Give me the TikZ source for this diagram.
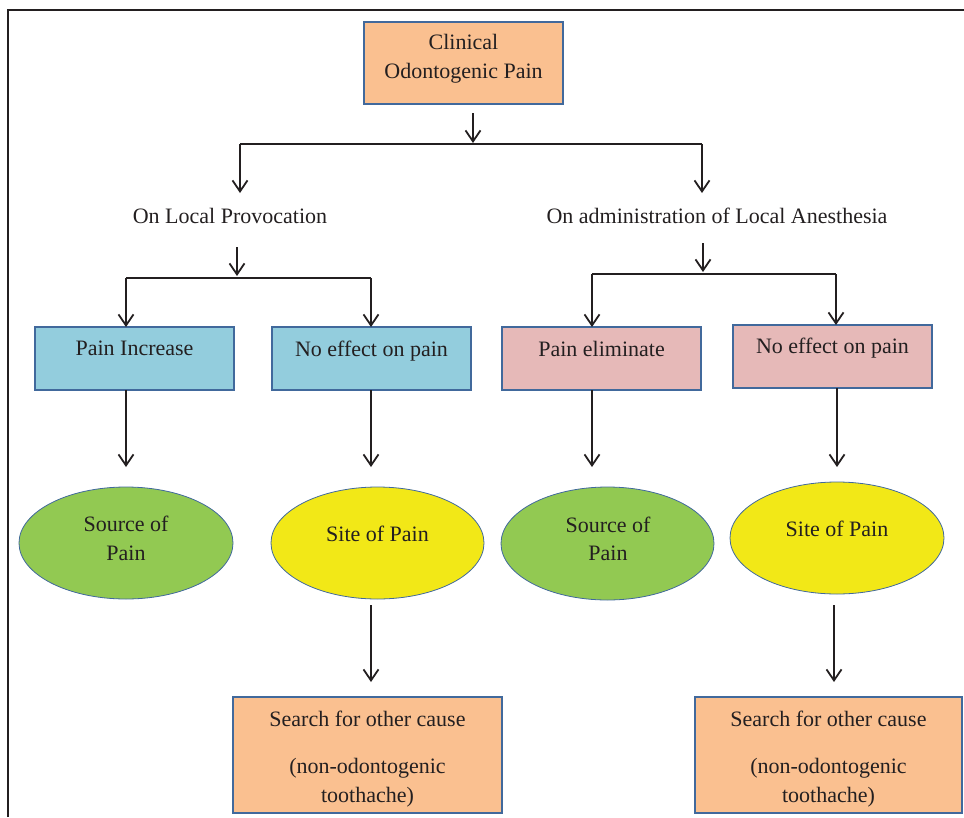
\documentclass[tikz,border=0pt]{standalone}
\usepackage{fontspec}
\setmainfont{Liberation Serif}
\usetikzlibrary{arrows.meta,shapes.geometric}
\definecolor{peach}{HTML}{FAC090}
\definecolor{lblue}{HTML}{93CDDD}
\definecolor{lpink}{HTML}{E6B9B8}
\definecolor{lgreen}{HTML}{92C952}
\definecolor{lyellow}{HTML}{F2E817}
\definecolor{bord}{HTML}{41699C}
\definecolor{tcol}{HTML}{231F20}
\begin{document}
\begin{tikzpicture}[x=1pt,y=-1pt,
  font=\fontsize{22}{29}\selectfont,
  box/.style={draw=bord, line width=1.8pt, inner sep=0pt, outer sep=0pt, anchor=north west},
  oval/.style={ellipse, draw=bord, line width=0.8pt, inner sep=0pt, outer sep=0pt},
  txt/.style={anchor=base, inner sep=0pt, text=tcol, align=center},
  arr/.style={draw=tcol, line width=1.8pt, -{Straight Barb[length=11pt,width=15pt,line width=1.8pt]}},
  ln/.style={draw=tcol, line width=1.8pt}]
\useasboundingbox (0,0) rectangle (964,817);
% frame
\draw[draw=tcol, line width=1.4pt] (8,817) -- (8,10) -- (964,10);

% top box
\node[box, fill=peach, minimum width=199pt, minimum height=82pt] (top) at (364,22) {};
\node[txt] (topt1) at (463.5,49) {Clinical};
\node[txt] (topt2) at (463.5,78) {Odontogenic Pain};

% first split
\coordinate (a0s) at (473,113);
\coordinate (a0e) at (473,143);
\coordinate (jL) at (240,144);
\coordinate (jR) at (702,144);
\coordinate (jLe) at (240,193);
\coordinate (jRe) at (702,193);
\draw[arr] (a0s) -- (a0e);
\draw[ln] (jL) -- (jR);
\draw[arr] (jL) -- (jLe);
\draw[arr] (jR) -- (jRe);

\node[txt] (lp) at (230,223) {On Local Provocation};
\node[txt] (la) at (717,223) {On administration of Local Anesthesia};

% second split left
\coordinate (b1s) at (237,247);
\coordinate (b1e) at (237,276);
\coordinate (kL1) at (126,278);
\coordinate (kL2) at (371,278);
\draw[arr] (b1s) -- (b1e);
\draw[ln] (kL1) -- (kL2);

% second split right
\coordinate (b2s) at (703,243);
\coordinate (b2e) at (703,272);
\coordinate (kR1) at (592,274);
\coordinate (kR2) at (836,274);
\draw[arr] (b2s) -- (b2e);
\draw[ln] (kR1) -- (kR2);

% second-level boxes
\node[box, fill=lblue, minimum width=199pt, minimum height=63pt] (pi) at (35,327) {};
\node[box, fill=lblue, minimum width=199pt, minimum height=63pt] (ne1) at (272,327) {};
\node[box, fill=lpink, minimum width=199pt, minimum height=63pt] (pe) at (502,327) {};
\node[box, fill=lpink, minimum width=199pt, minimum height=63pt] (ne2) at (733,325) {};
\node[txt] (pit) at (134.5,355) {Pain Increase};
\node[txt] (ne1t) at (371.5,356) {No effect on pain};
\node[txt] (pet) at (601.5,356) {Pain eliminate};
\node[txt] (ne2t) at (832.5,353) {No effect on pain};

\draw[arr] (kL1) -- (kL1 |- pi.north);
\draw[arr] (kL2) -- (kL2 |- ne1.north);
\draw[arr] (kR1) -- (kR1 |- pe.north);
\draw[arr] (kR2) -- (kR2 |- ne2.north);

% ellipses
\node[oval, fill=lgreen, minimum width=214pt, minimum height=112pt] (s1) at (126,543) {};
\node[oval, fill=lyellow, minimum width=213pt, minimum height=112pt] (p1) at (377.5,543) {};
\node[oval, fill=lgreen, minimum width=213pt, minimum height=113pt] (s2) at (607.5,543.5) {};
\node[oval, fill=lyellow, minimum width=214pt, minimum height=112pt] (p2) at (837,538) {};
\node[txt] (s1t) at (126,531) {Source of};
\node[txt] (s1u) at (126,560) {Pain};
\node[txt] (p1t) at (377.5,541) {Site of Pain};
\node[txt] (s2t) at (608,532) {Source of};
\node[txt] (s2u) at (608,560) {Pain};
\node[txt] (p2t) at (837,536) {Site of Pain};

\coordinate (c1) at (126,467);
\coordinate (c2) at (371,467);
\coordinate (c3) at (592,467);
\coordinate (c4) at (837,467);
\draw[arr] (c1 |- pi.south) -- (c1);
\draw[arr] (c2 |- ne1.south) -- (c2);
\draw[arr] (c3 |- pe.south) -- (c3);
\draw[arr] (c4 |- ne2.south) -- (c4);

% bottom boxes
\node[box, fill=peach, minimum width=269pt, minimum height=116pt] (sc1) at (233,697) {};
\node[box, fill=peach, minimum width=267pt, minimum height=116pt] (sc2) at (695,697) {};
\node[txt] (sc1a) at (367.5,726) {Search for other cause};
\node[txt] (sc1b) at (367.5,773) {(non-odontogenic};
\node[txt] (sc1c) at (367.5,802) {toothache)};
\node[txt] (sc2a) at (828.5,726) {Search for other cause};
\node[txt] (sc2b) at (828.5,773) {(non-odontogenic};
\node[txt] (sc2c) at (828.5,802) {toothache)};

\coordinate (d1s) at (371,605);
\coordinate (d1e) at (371,682);
\coordinate (d2s) at (834,605);
\coordinate (d2e) at (834,682);
\draw[arr] (d1s) -- (d1e);
\draw[arr] (d2s) -- (d2e);
\end{tikzpicture}
\end{document}
